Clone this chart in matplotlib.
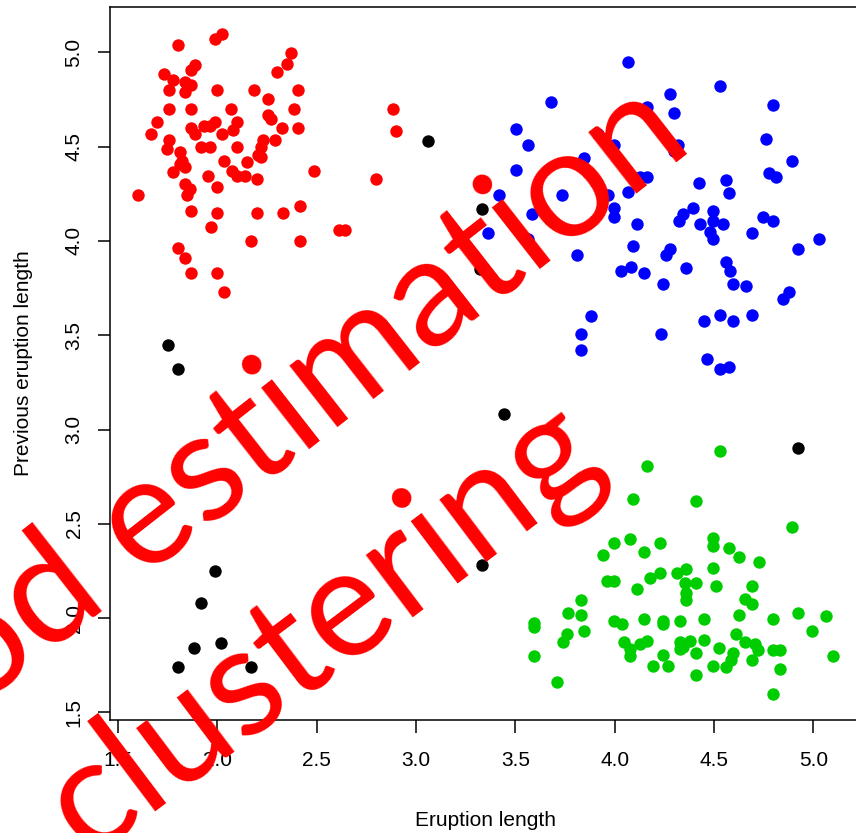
import matplotlib
matplotlib.use("Agg")
import matplotlib.pyplot as plt

# ---- data (eruption length, previous eruption length) ----
red_x = [1.803, 1.988, 2.022, 2.372, 2.35, 2.30, 1.732, 1.778, 1.887, 1.87, 1.837, 1.87, 1.837, 1.756,
         2.0, 2.185, 2.254, 2.404, 1.756, 1.87, 2.069, 2.384, 1.699, 1.668, 1.87, 1.887, 1.933, 1.963,
         1.988, 2.022, 2.101, 2.081, 2.254, 2.271, 2.325, 2.404, 1.756, 1.749, 1.917, 1.963, 2.101,
         2.232, 2.219, 2.204, 2.219, 2.291, 1.811, 1.82, 1.837, 1.811, 1.778, 2.034, 2.148, 2.072,
         2.097, 2.14, 2.199, 1.951, 1.837, 1.862, 1.848, 2.0, 1.601, 2.485, 1.867, 2.0, 2.199, 2.333,
         2.418, 1.966, 2.17, 2.418, 2.611, 2.645, 2.80, 2.884, 2.902, 1.803, 1.837, 1.867, 2.0, 2.035]
red_y = [5.039, 5.07, 5.096, 4.998, 4.938, 4.897, 4.885, 4.853, 4.93, 4.906, 4.844, 4.826, 4.79, 4.80,
         4.80, 4.80, 4.753, 4.80, 4.698, 4.698, 4.698, 4.698, 4.63, 4.568, 4.599, 4.568, 4.607, 4.607,
         4.63, 4.568, 4.63, 4.586, 4.666, 4.648, 4.599, 4.599, 4.533, 4.488, 4.50, 4.50, 4.50,
         4.533, 4.497, 4.453, 4.444, 4.533, 4.47, 4.426, 4.39, 4.408, 4.364, 4.426, 4.417, 4.373,
         4.346, 4.346, 4.328, 4.346, 4.302, 4.275, 4.245, 4.284, 4.245, 4.368, 4.16, 4.146, 4.146, 4.146,
         4.183, 4.075, 4.0, 4.0, 4.059, 4.059, 4.328, 4.698, 4.583, 3.964, 3.911, 3.828, 3.828, 3.73]

blue_x = [4.067, 4.531, 4.278, 4.795, 3.678, 4.163, 4.301, 3.502, 4.761, 3.562, 3.914, 3.998, 4.320,
          4.301, 3.847, 4.891, 3.502, 4.127, 4.164, 4.778, 4.812, 4.426, 4.563, 4.577, 3.418, 3.733,
          3.965, 4.068, 3.998, 3.998, 3.582, 4.395, 4.345, 4.325, 4.496, 4.496, 4.546, 4.429, 4.479,
          4.496, 4.747, 4.798, 4.693, 5.028, 4.924, 3.364, 3.562, 4.115, 3.813, 4.093, 4.278, 4.261,
          4.357, 4.031, 4.082, 4.149, 4.245, 4.563, 4.580, 4.597, 4.661, 4.879, 4.845, 3.881, 3.829,
          3.829, 4.231, 4.449, 4.53, 4.597, 4.693, 4.463, 4.53, 4.577]
blue_y = [4.947, 4.823, 4.777, 4.723, 4.739, 4.709, 4.677, 4.592, 4.539, 4.511, 4.568, 4.511, 4.507,
          4.475, 4.44, 4.424, 4.378, 4.339, 4.339, 4.362, 4.339, 4.309, 4.324, 4.254, 4.241, 4.241,
          4.241, 4.259, 4.174, 4.126, 4.144, 4.174, 4.144, 4.108, 4.158, 4.108, 4.087, 4.087, 4.046,
          4.011, 4.126, 4.108, 4.041, 4.011, 3.957, 4.041, 4.011, 4.087, 3.926, 3.972, 3.957, 3.926,
          3.858, 3.842, 3.86, 3.828, 3.771, 3.887, 3.842, 3.771, 3.759, 3.727, 3.691, 3.604, 3.505,
          3.42, 3.505, 3.573, 3.606, 3.573, 3.606, 3.372, 3.319, 3.333]

green_x = [4.531, 4.161, 4.094, 4.412, 4.891, 3.943, 3.998, 4.077, 4.149, 4.228, 4.493, 4.493, 4.577,
           4.627, 4.728, 4.493, 4.312, 4.359, 4.354, 4.359, 4.359, 4.412, 4.178, 4.228, 3.960, 3.998,
           4.115, 4.508, 4.693, 4.656, 4.690, 3.829, 3.829, 3.766, 3.596, 3.596, 3.847, 3.758, 3.741,
           3.596, 3.712, 3.998, 4.035, 4.149, 4.245, 4.245, 4.329, 4.449, 4.625, 4.613, 4.795, 4.924,
           5.062, 4.995, 5.097, 4.048, 4.077, 4.077, 4.127, 4.161, 4.329, 4.346, 4.379, 4.329, 4.449,
           4.412, 4.245, 4.267, 4.195, 4.526, 4.594, 4.586, 4.560, 4.493, 4.412, 4.656, 4.706, 4.723,
           4.690, 4.798, 4.832, 4.832, 4.798]
green_y = [2.888, 2.805, 2.633, 2.621, 2.482, 2.335, 2.397, 2.42, 2.353, 2.397, 2.424, 2.383, 2.371,
           2.323, 2.30, 2.268, 2.238, 2.259, 2.184, 2.131, 2.096, 2.184, 2.215, 2.238, 2.199, 2.199,
           2.154, 2.172, 2.17, 2.099, 2.073, 2.096, 2.019, 2.028, 1.972, 1.954, 1.931, 1.918, 1.874,
           1.80, 1.661, 1.983, 1.968, 1.998, 1.986, 1.968, 1.984, 1.998, 2.016, 1.918, 1.998, 2.028,
           2.012, 1.931, 1.80, 1.874, 1.839, 1.798, 1.865, 1.878, 1.874, 1.848, 1.878, 1.839, 1.883,
           1.816, 1.803, 1.745, 1.745, 1.842, 1.816, 1.777, 1.741, 1.745, 1.697, 1.874, 1.865, 1.83,
           1.78, 1.83, 1.83, 1.732, 1.599]

black_x = [3.061, 1.753, 1.803, 1.988, 1.918, 1.884, 2.018, 1.803, 2.17, 3.330, 3.322, 3.443, 4.924, 3.330]
black_y = [4.529, 3.449, 3.321, 2.251, 2.082, 1.842, 1.868, 1.742, 1.742, 4.170, 3.851, 3.08, 2.903, 2.282]

x_ticks = [1.5, 2.0, 2.5, 3.0, 3.5, 4.0, 4.5, 5.0]
y_ticks = [1.5, 2.0, 2.5, 3.0, 3.5, 4.0, 4.5, 5.0]
x_label = "Eruption length"
y_label = "Previous eruption length"
overlay_line1 = "od estimation"
overlay_line2 = "clustering"

# ---- figure ----
W, H = 856, 833
fig = plt.figure(figsize=(W / 100, H / 100), dpi=100)
ax = fig.add_axes([110 / W, 1 - 720 / H, 751 / W, 713 / H])
ax.set_xlim(1.46, 5.24)
ax.set_ylim(1.46, 5.24)

ms = 80
ax.scatter(red_x, red_y, s=ms, c="#FF0000", linewidths=0, zorder=3)
ax.scatter(blue_x, blue_y, s=ms, c="#0000FF", linewidths=0, zorder=3)
ax.scatter(green_x, green_y, s=ms, c="#00CD00", linewidths=0, zorder=3)
ax.scatter(black_x, black_y, s=ms, c="#000000", linewidths=0, zorder=3)

axfont = "Liberation Sans"
ax.set_xticks(x_ticks)
ax.set_yticks(y_ticks)
ax.set_xticklabels([f"{t:.1f}" for t in x_ticks], family=axfont, fontsize=15)
ax.set_yticklabels([f"{t:.1f}" for t in y_ticks], family=axfont, fontsize=15,
                   rotation=90, va="center")
ax.tick_params(axis="x", direction="out", length=9, width=1.1, pad=13)
ax.tick_params(axis="y", direction="out", length=9, width=1.1, pad=10)
for sp in ax.spines.values():
    sp.set_linewidth(1.1)

ax.set_xlabel(x_label, family=axfont, fontsize=15)
ax.set_ylabel(y_label, family=axfont, fontsize=15)
ax.xaxis.set_label_coords(0.5, (720 - 820) / 713)
ax.xaxis.label.set_va("center")
ax.yaxis.set_label_coords((24 - 110) / 751, 0.5)
ax.yaxis.label.set_va("center")

# ---- overlay (red rotated text, drawn over everything) ----
tfont = ["Lato", "DejaVu Sans"]
fig.text(-25 / W, 1 - 710 / H, overlay_line1, family=tfont, fontsize=110, weight="normal",
         color="#FF0000", rotation=38, rotation_mode="anchor", ha="left", va="baseline",
         zorder=20)
fig.text(88 / W, 1 - 858 / H, overlay_line2, family=tfont, fontsize=110, weight="normal",
         color="#FF0000", rotation=37, rotation_mode="anchor", ha="left", va="baseline",
         zorder=20)

fig.savefig("out.png", dpi=100)
